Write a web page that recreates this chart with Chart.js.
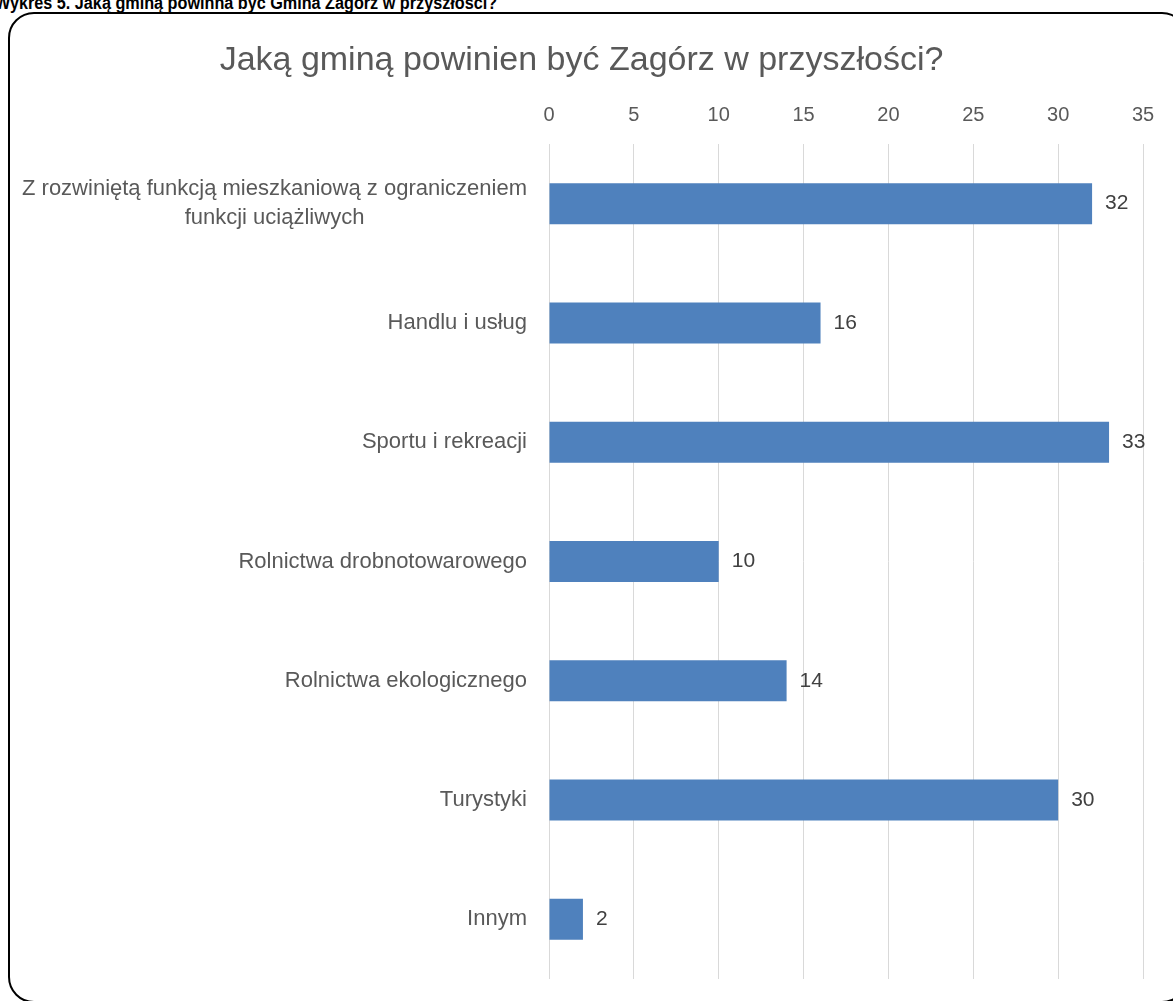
<!DOCTYPE html>
<html>
<head>
<meta charset="utf-8">
<script src="https://cdn.jsdelivr.net/npm/chart.js@4.4.1/dist/chart.umd.min.js"></script>
<style>
  html, body { margin: 0; padding: 0; background: #fff; overflow: hidden; width: 1173px; height: 1001px; }
  #heading { position: absolute; left: -5px; top: -7px; line-height: 18px; font: bold 18px "Liberation Sans", Arial, sans-serif; color: #000; white-space: nowrap; transform: scaleX(0.9); transform-origin: left top; }
  #box { position: absolute; left: 8px; top: 12px; width: 1180px; height: 991px; border: 2px solid #000; border-radius: 26px; box-sizing: border-box; }
  #wrap { position: absolute; left: 0; top: 0; width: 1163px; height: 1001px; }
</style>
</head>
<body>
<div id="heading">Wykres 5. Jaką gminą powinna być Gmina Zagórz w przyszłości?</div>
<div id="box"></div>
<div id="wrap"><canvas id="c"></canvas></div>
<script>
const chartTitle = "Jaką gminą powinien być Zagórz w przyszłości?";
const categories = [
  ["Z rozwiniętą funkcją mieszkaniową z ograniczeniem", "funkcji uciążliwych"],
  "Handlu i usług",
  "Sportu i rekreacji",
  "Rolnictwa drobnotowarowego",
  "Rolnictwa ekologicznego",
  "Turystyki",
  "Innym"
];
const values = [32, 16, 33, 10, 14, 30, 2];
const axisMin = 0, axisMax = 35, axisStep = 5;

const FONT = '"Liberation Sans", Arial, sans-serif';

const labelsPlugin = {
  id: 'customLabels',
  afterDatasetsDraw(chart) {
    const ctx = chart.ctx;
    const yScale = chart.scales.y;
    ctx.save();
    ctx.font = '22px ' + FONT;
    ctx.fillStyle = '#595959';
    ctx.textBaseline = 'middle';
    const right = chart.chartArea.left - 22;
    categories.forEach((lab, i) => {
      const y = yScale.getPixelForTick(i);
      const lines = Array.isArray(lab) ? lab : [lab];
      const lh = 29;
      const widest = Math.max(...lines.map(l => ctx.measureText(l).width));
      const start = y - (lines.length - 1) * lh / 2;
      if (lines.length === 1) {
        ctx.textAlign = 'right';
        ctx.fillText(lines[0], right, y);
      } else {
        ctx.textAlign = 'center';
        lines.forEach((l, k) => ctx.fillText(l, right - widest / 2, start + k * lh));
      }
    });
    ctx.font = '21px ' + FONT;
    ctx.fillStyle = '#404040';
    ctx.textAlign = 'left';
    const meta = chart.getDatasetMeta(0);
    meta.data.forEach((bar, i) => {
      ctx.fillText(String(values[i]), bar.x + 13, bar.y);
    });
    ctx.restore();
  }
};

new Chart(document.getElementById('c'), {
  type: 'bar',
  data: {
    labels: categories,
    datasets: [{
      data: values,
      backgroundColor: '#4F81BD',
      borderWidth: 0,
      categoryPercentage: 1,
      barPercentage: 0.344
    }]
  },
  options: {
    indexAxis: 'y',
    responsive: true,
    maintainAspectRatio: false,
    animation: false,
    layout: { padding: { left: 20, right: 20, top: 0, bottom: 22 } },
    plugins: {
      legend: { display: false },
      tooltip: { enabled: false },
      title: {
        display: true,
        text: chartTitle,
        color: '#595959',
        font: { family: FONT, size: 34, weight: 'normal', lineHeight: 1.2 },
        padding: { top: 40, bottom: 6 }
      }
    },
    scales: {
      x: {
        position: 'top',
        min: axisMin,
        max: axisMax,
        ticks: {
          stepSize: axisStep,
          color: '#595959',
          font: { family: FONT, size: 20 },
          padding: 17
        },
        grid: { color: '#D9D9D9', lineWidth: 1, drawTicks: false },
        border: { display: false },
        afterFit(scale) { scale.height = 144 - (40 + 34 * 1.2 + 6); scale.paddingLeft = 0; scale.paddingRight = 0; }
      },
      y: {
        ticks: { display: false },
        grid: { display: false },
        border: { display: false },
        afterFit(scale) { scale.width = 529; }
      }
    }
  },
  plugins: [labelsPlugin]
});
</script>
</body>
</html>
